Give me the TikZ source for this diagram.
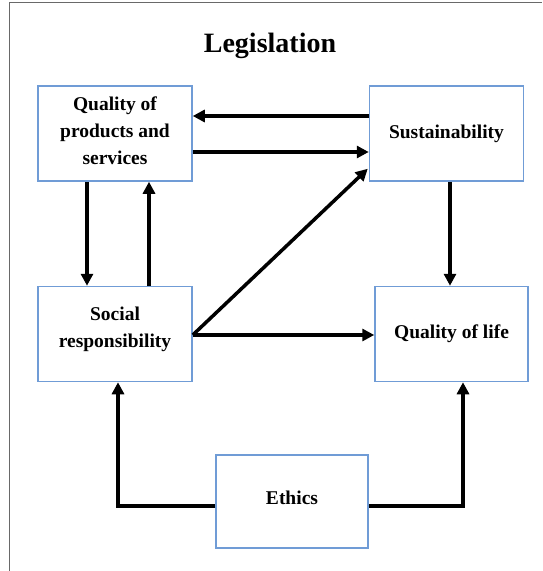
\documentclass[tikz,border=0pt]{standalone}
\usepackage{fontspec}
\setmainfont{Liberation Serif}[BoldFont={Liberation Serif Bold}, ItalicFont={Liberation Serif Italic}]
\newfontfamily\diagfont{Liberation Serif Bold}
\usetikzlibrary{arrows.meta}
\definecolor{boxblue}{RGB}{112,156,214}
\definecolor{framegray}{RGB}{105,105,105}
\tikzset{
  box/.style={draw=boxblue, line width=1.5pt, minimum width=154pt, minimum height=95pt,
    inner sep=0pt, align=center, font=\diagfont\fontsize{19.5}{27}\selectfont},
  arr/.style={line width=3.5pt, -{Triangle[length=12pt,width=12pt]}},
}
\begin{document}
\begin{tikzpicture}[x=1pt,y=-1pt]
\useasboundingbox (0,0) rectangle (542,571);
\draw[framegray, line width=1.5pt] (9.5,571) -- (9.5,2.5) -- (542,2.5);
\node[anchor=base, font=\diagfont\fontsize{28}{30}\selectfont] (title) at (270,52) {Legislation};
\node[box, text depth=6pt] (Q) at (115,133.5) {Quality of\\products and\\services};
\node[box] (S) at (446.5,133.5) {Sustainability};
\node[box, text depth=14pt] (R) at (115,334) {Social\\responsibility};
\node[box, minimum width=153pt] (L) at (451.5,334) {Quality of life};
\node[box, minimum width=152pt, minimum height=93pt, text depth=8pt] (E) at (292,501.5) {Ethics};
% top pair
\draw[arr] ([yshift=17.5pt]S.west) -- ([yshift=17.5pt]Q.east);
\draw[arr] ([yshift=-18.5pt]Q.east) -- ([yshift=-18.5pt]S.west);
% vertical pair left
\draw[arr] ([xshift=-28pt]Q.south) -- ([xshift=-28pt]R.north);
\draw[arr] ([xshift=34pt]R.north) -- ([xshift=34pt]Q.south);
% diagonal
\draw[arr] ([yshift=-1pt]R.east) -- ([xshift=-1pt,yshift=13pt]S.south west);
% SR to QoL
\draw[arr] ([yshift=-1pt]R.east) -- ([yshift=-1pt]L.west);
% Sust to QoL
\draw[arr] ([xshift=3.5pt]S.south) -- ([xshift=3.5pt]S.south |- L.north);
% Ethics
\draw[arr] ([yshift=-4.5pt]E.west) -| ([xshift=3pt]R.south);
\draw[arr] ([yshift=-4.5pt]E.east) -| ([xshift=11.5pt]L.south);
\end{tikzpicture}
\end{document}
